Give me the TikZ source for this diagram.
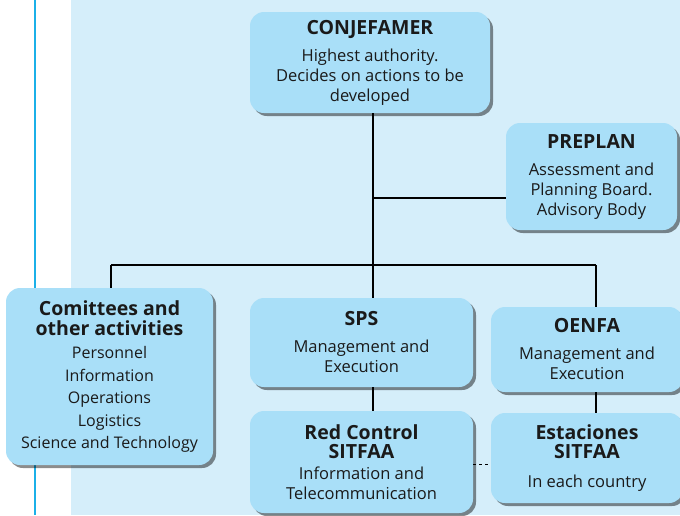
\documentclass[tikz,border=0pt]{standalone}
\usepackage{fontspec}
\setmainfont{Open Sans}
\usetikzlibrary{shadows}
\definecolor{bgblue}{HTML}{D5EEFA}
\definecolor{boxblue}{HTML}{A9DFF8}
\definecolor{lineblue}{HTML}{1BB0E8}
\definecolor{txt}{HTML}{1A1A1A}
\newcommand{\ttlf}{\bfseries\fontsize{19.5}{20}\selectfont}
\tikzset{
 box/.style={rectangle, rounded corners=14pt, fill=boxblue, draw=none, align=center,
   text=txt, font=\fontsize{16.5}{20}\selectfont, inner sep=0pt,
   drop shadow={shadow xshift=3pt, shadow yshift=-3pt, fill=black, opacity=0.45}},
 link/.style={draw=black, line width=1.3pt},
}
\begin{document}
\begin{tikzpicture}[x=1pt,y=-1pt]
\useasboundingbox (0,0) rectangle (680,515);
\clip (0,0) rectangle (680,515);
\fill[bgblue] (71,0) rectangle (680,515);
\draw[lineblue, line width=2pt] (34.5,0) -- (34.5,515);

\coordinate (busL) at (111,265);
\coordinate (busM) at (373,265);
\coordinate (busR) at (596,265);
\coordinate (pj) at (373,198);
\coordinate (dj) at (470,464);

\node[box, minimum width=240pt, minimum height=101pt] (conj) at (370,62.5)
 {{\ttlf CONJEFAMER}\\[7pt] Highest authority.\\ Decides on actions to be\\ developed};
\node[box, minimum width=171pt, minimum height=107pt] (prep) at (591.5,176.5)
 {{\ttlf PREPLAN}\\[7pt] Assessment and\\ Planning Board.\\ Advisory Body};
\node[box, minimum width=207pt, minimum height=177pt, font=\fontsize{16}{22.5}\selectfont] (comm) at (109.5,376.5)
 {{\ttlf Comittees and}\\[-2.5pt] {\ttlf other activities}\\[1pt] Personnel\\ Information\\ Operations\\ Logistics\\ Science and Technology};
\node[box, minimum width=223pt, minimum height=89pt] (sps) at (361.5,342.5)
 {{\ttlf SPS}\\[7pt] Management and\\ Execution};
\node[box, minimum width=192pt, minimum height=85pt] (oenfa) at (587,349.5)
 {{\ttlf OENFA}\\[7pt] Management and\\ Execution};
\node[box, minimum width=223pt, minimum height=102pt] (red) at (361.5,462)
 {{\ttlf Red Control}\\[-1pt] {\ttlf SITFAA}\\[1pt] Information and\\ Telecommunication};
\node[box, minimum width=192pt, minimum height=90pt] (est) at (587,458)
 {{\ttlf Estaciones}\\[-1pt] {\ttlf SITFAA}\\[9pt] In each country};

\draw[link] (conj.south -| busM) -- (busM);
\draw[link] (pj) -- (pj -| prep.west);
\draw[link] (busL) -- (busR);
\draw[link] (busL) -- (busL |- comm.north);
\draw[link] (busM) -- (busM |- sps.north);
\draw[link] (busR) -- (busR |- oenfa.north);
\draw[link] (sps.south -| busM) -- (red.north -| busM);
\draw[link] (oenfa.south -| busR) -- (est.north -| busR);
\draw[link, line width=1pt, dashed] (dj -| red.east) -- (dj -| est.west);
\end{tikzpicture}
\end{document}
